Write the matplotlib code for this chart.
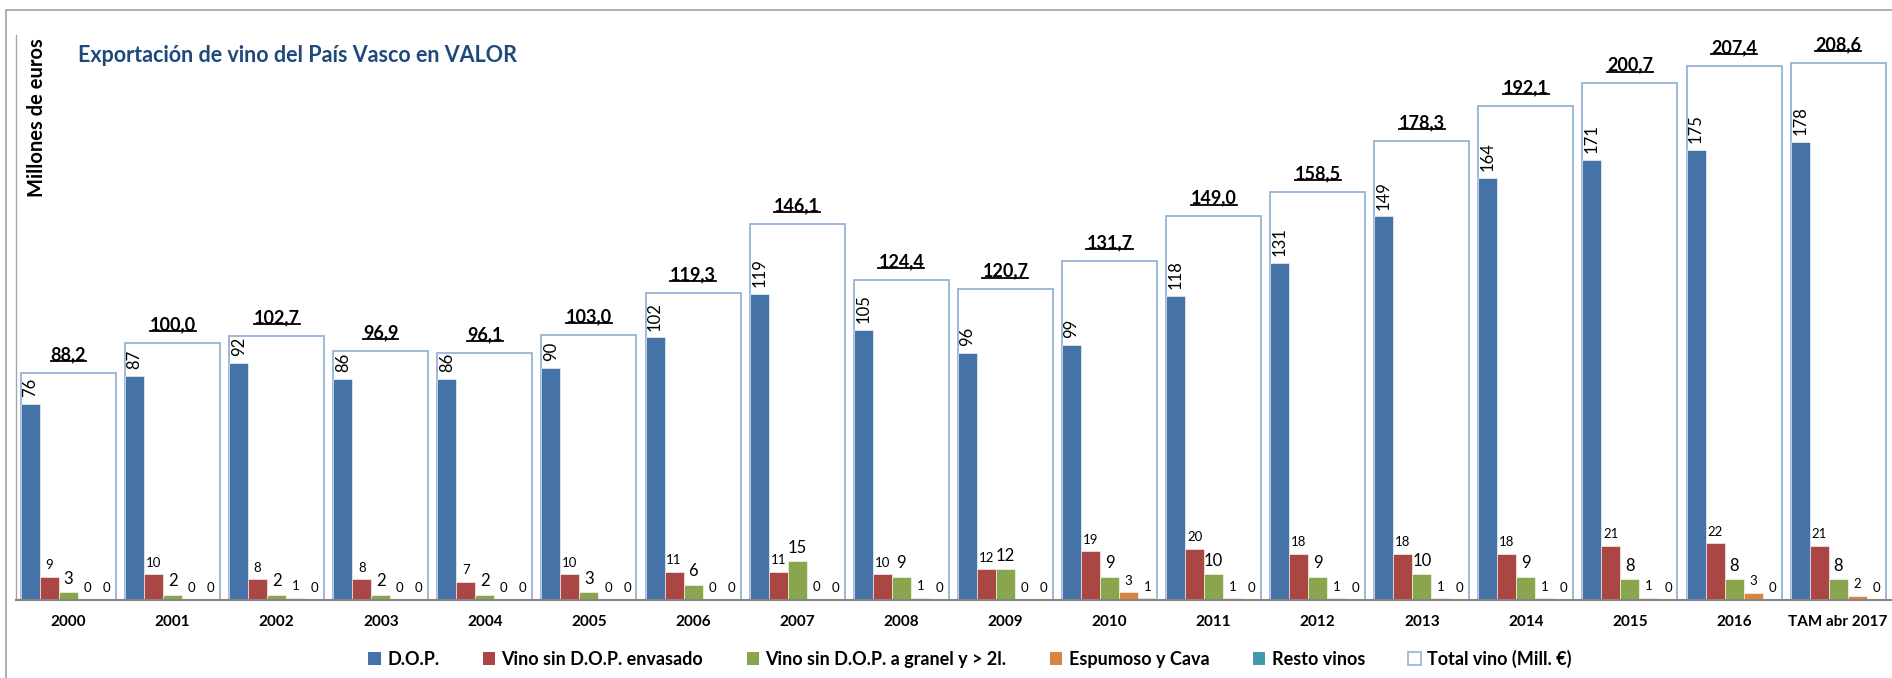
import matplotlib
matplotlib.use("Agg")
import matplotlib.pyplot as plt
from matplotlib.patches import Patch, Rectangle
from matplotlib.lines import Line2D
import numpy as np

years = ["2000", "2001", "2002", "2003", "2004", "2005", "2006", "2007", "2008",
         "2009", "2010", "2011", "2012", "2013", "2014", "2015", "2016", "TAM abr 2017"]
dop = [76, 87, 92, 86, 86, 90, 102, 119, 105, 96, 99, 118, 131, 149, 164, 171, 175, 178]
envasado = [9, 10, 8, 8, 7, 10, 11, 11, 10, 12, 19, 20, 18, 18, 18, 21, 22, 21]
granel = [3, 2, 2, 2, 2, 3, 6, 15, 9, 12, 9, 10, 9, 10, 9, 8, 8, 8]
espumoso = [0.1, 0.3, 0.8, 0.3, 0.3, 0.3, 0.3, 0.4, 0.8, 0.3, 3, 0.6, 0.6, 0.6, 0.6, 0.8, 2.8, 1.7]
resto = [0.05, 0.05, 0.05, 0.05, 0.05, 0.05, 0.05, 0.05, 0.05, 0.05, 0.7, 0.2, 0.1, 0.05, 0.05, 0.05, 0.05, 0.1]
total = [88.2, 100.0, 102.7, 96.9, 96.1, 103.0, 119.3, 146.1, 124.4, 120.7,
         131.7, 149.0, 158.5, 178.3, 192.1, 200.7, 207.4, 208.6]

series_names = ["D.O.P.", "Vino sin D.O.P. envasado", "Vino sin D.O.P. a granel y > 2l.",
                "Espumoso y Cava", "Resto vinos"]
colors = ["#4572A7", "#AA4643", "#89A54E", "#DB843D", "#4198AF"]
box_color = "#95B3D7"
FONT = ["Lato", "DejaVu Sans"]

plt.rcParams["font.family"] = FONT

W, H = 1892, 678
fig = plt.figure(figsize=(W / 100, H / 100), dpi=100)
ax = fig.add_axes([16 / W, 78 / H, (W - 16) / W, (600 - 35) / H])

x = np.arange(len(years))
w = 0.1825
series = [dop, envasado, granel, espumoso, resto]

# total box behind the bars
ax.bar(x, total, width=5 * w, facecolor="none", edgecolor=box_color, lw=1.3, zorder=1)

label_sizes = [12, 9.5, 12, 9.5, 9.5]
for k, (vals, col) in enumerate(zip(series, colors)):
    xs = x + (k - 2) * w
    ax.bar(xs, vals, width=w, color=col, edgecolor="white", lw=0.4, zorder=2)
    for xi, v in zip(xs, vals):
        if k == 0:
            ax.annotate(f"{v:.0f}", (xi, v), xytext=(0, 5), textcoords="offset points",
                        ha="center", va="bottom", rotation=90, fontsize=label_sizes[k])
        else:
            ax.annotate(f"{v:.0f}", (xi, v), xytext=(0, 4), textcoords="offset points",
                        ha="center", va="bottom", fontsize=label_sizes[k])

tot_texts = []
for xi, v in zip(x, total):
    t = ax.annotate(f"{v:.1f}".replace(".", ","), (xi, v), xytext=(0, 7),
                    textcoords="offset points", ha="center", va="bottom",
                    fontsize=13, fontweight="bold")
    tot_texts.append(t)

ax.set_xlim(-0.504, 17.517)
ax.set_ylim(0, 219.5)
ax.set_xticks(x)
ax.set_xticklabels(years, fontweight="bold", fontsize=11)
ax.tick_params(axis="x", length=0, pad=11)
ax.set_yticks([])
for s in ["top", "right"]:
    ax.spines[s].set_visible(False)
ax.spines["bottom"].set_color("#868686")
ax.spines["bottom"].set_linewidth(1.5)
ax.spines["left"].set_color("#A6A6A6")
ax.spines["left"].set_linewidth(1.0)

fig.text(78 / W, 1 - 55 / H, "Exportación de vino del País Vasco en VALOR",
         color="#1F497D", fontsize=15.5, fontweight="bold", va="center", ha="left")
fig.text(37 / W, 1 - 118 / H, "Millones de euros", rotation=90, fontsize=14.5,
         fontweight="bold", va="center", ha="center")

handles = [Patch(facecolor=c, edgecolor="none") for c in colors]
handles.append(Patch(facecolor="white", edgecolor=box_color, lw=1.2))
labels = series_names + ["Total vino (Mill. €)"]
fig.legend(handles, labels, loc="center", bbox_to_anchor=(970 / W, 1 - 659 / H), ncol=6,
           frameon=False, handlelength=0.7, handleheight=0.7, handletextpad=0.35,
           columnspacing=2.4, prop={"weight": "bold", "size": 13})

# outer chart border
fig.patches.append(Rectangle((6 / W, -0.05), 1.1, 1 - 10 / H + 0.05, transform=fig.transFigure,
                             fill=False, edgecolor="#A0A0A0", lw=1.2))

# underline the total labels
fig.canvas.draw()
renderer = fig.canvas.get_renderer()
for t in tot_texts:
    bb = t.get_window_extent(renderer)
    yy = (bb.y0 + 2) / H
    fig.add_artist(Line2D([bb.x0 / W, bb.x1 / W], [yy, yy], transform=fig.transFigure,
                          color="black", lw=1.3))

fig.savefig("out.png", dpi=100)
